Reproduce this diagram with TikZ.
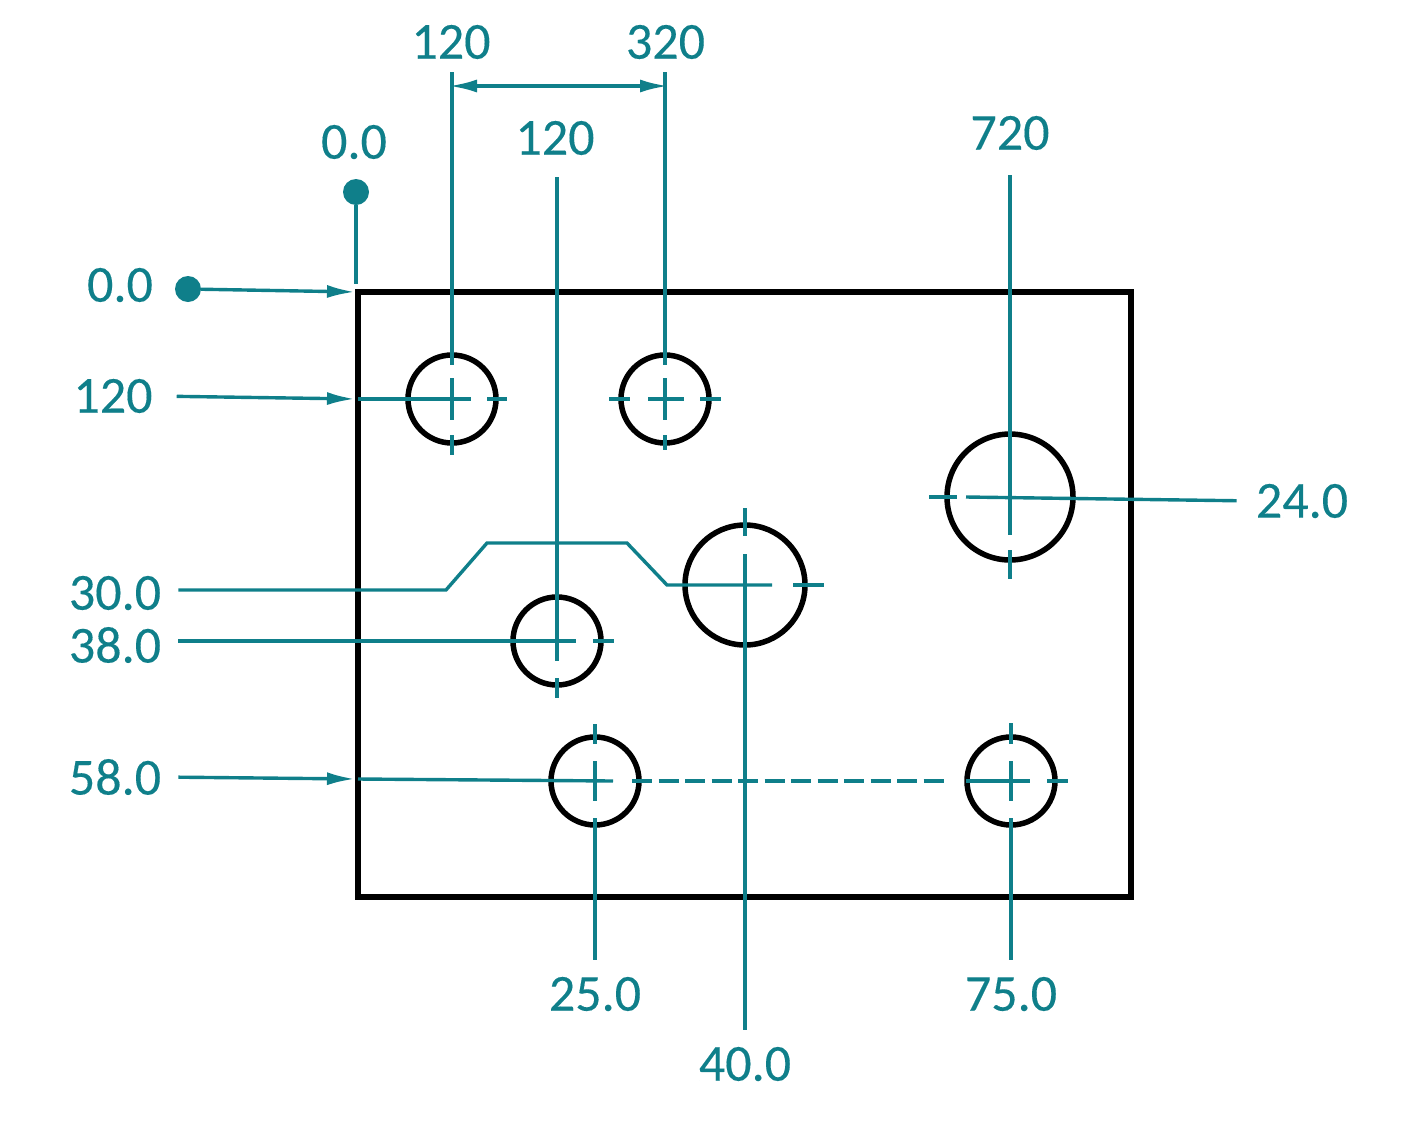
\documentclass[tikz,border=0pt]{standalone}
\usepackage{fontspec}
\setmainfont{Carlito}
\usetikzlibrary{positioning,calc,arrows.meta}
\definecolor{dimteal}{HTML}{0F7F8A}

\begin{document}
\begin{tikzpicture}
		[x=1pt,y=-1pt,
		plate/.style={rectangle,draw=black,line width=5.5pt,inner sep=0pt,outer sep=0pt,minimum width=773pt,minimum height=605pt},
		hole/.style={circle,draw=black,line width=5.5pt,inner sep=0pt,outer sep=0pt},
		dimlabel/.style={text=dimteal,inner sep=0pt,font=\fontsize{52pt}{52pt}\selectfont\addfontfeature{FakeBold=0.25}},
		dimdot/.style={circle,fill=dimteal,inner sep=0pt,minimum size=26pt},
		dimline/.style={draw=dimteal,line width=3.4pt},
		dimarrow/.style={dimline,-{Latex[length=28pt,width=13pt]}}]
		\useasboundingbox (0,0) rectangle (1402,1122);

		\node [plate] (plate) at (744.5,594.5) {};
		\node [hole,minimum size=88pt] (h1) at (452,399) {};
		\node [hole,minimum size=88pt] (h2) at (665,399) {};
		\node [hole,minimum size=126pt] (h3) at (1010,497) {};
		\node [hole,minimum size=120pt] (h4) at (745,585) {};
		\node [hole,minimum size=88pt] (h5) at (557,641) {};
		\node [hole,minimum size=88pt] (h6) at (595,781) {};
		\node [hole,minimum size=88pt] (h7) at (1011,781) {};

		\node [dimlabel] (t1) at (451,42) {120};
		\node [dimlabel] (t2) at (665.5,42) {320};
		\node [dimlabel] (t3) at (555,138) {120};
		\node [dimlabel] (t4) at (354,142) {0.0};
		\node [dimlabel] (t5) at (1010,133) {720};
		\node [dimlabel] (l1) at (120,285) {0.0};
		\node [dimlabel] (l2) at (113,396) {120};
		\node [dimlabel] (l3) at (115,593) {30.0};
		\node [dimlabel] (l4) at (115,645) {38.0};
		\node [dimlabel] (l5) at (115,777) {58.0};
		\node [dimlabel] (r1) at (1302,501) {24.0};
		\node [dimlabel] (b1) at (595,994) {25.0};
		\node [dimlabel] (b2) at (1011,994) {75.0};
		\node [dimlabel] (b3) at (745,1064) {40.0};

		\node [dimdot] (d1) at (188,289) {};
		\node [dimdot] (d2) at (356,192) {};

		\coordinate (e1) at (358,399);
		\coordinate (e2) at (358,779);
		\coordinate (a1) at (452,86);
		\coordinate (a2) at (665,86);

		% origin
		\draw [dimline] (d2) -- (356,284);
		\draw [dimarrow,shorten >=3pt] (d1) -- (plate.north west);

		% top leaders
		\draw [dimline,shorten <=13pt] (t1.south -| h1) -- ($(h1)+(0,-34)$);
		\draw [dimline,shorten <=13pt] (t2.south -| h2) -- ($(h2)+(0,-34)$);
		\draw [dimline,shorten <=22pt] (t3.south -| h5) -- ($(h5)+(0,20)$);
		\draw [dimline,shorten <=25pt] (t5.south -| h3) -- ($(h3)+(0,38)$);
		\draw [dimarrow,{Latex[length=28pt,width=13pt]}-{Latex[length=28pt,width=13pt]},shorten <=-3pt,shorten >=-3pt] (a1) -- (a2);

		% left leaders
		\draw [dimarrow,shorten <=24pt,shorten >=3pt] (l2.east) -- (e1);
		\draw [dimarrow,shorten <=17pt,shorten >=3pt] (l5.east) -- (e2);
		\draw [dimline,shorten <=17pt] (l3.east |- 0,590) -- (446,590) -- (487,543) -- (627,543) -- (667,585) -- ($(h4)+(27,0)$);
		\draw [dimline,shorten <=17pt] (l4.east |- 0,641) -- ($(h5)+(19,0)$);

		% right and bottom leaders
		\draw [dimline,shorten <=19pt] (r1.west) -- ($(h3)+(-44,0)$);
		\draw [dimline,shorten <=17pt] (b1.north) -- ($(h6)+(0,37)$);
		\draw [dimline,shorten <=17pt] (b2.north) -- ($(h7)+(0,37)$);
		\draw [dimline,shorten <=17pt] (b3.north) -- ($(h4)+(0,-31)$);

		% centre marks
		\draw [dimline] (e1) -- ($(h1)+(19,0)$);
		\draw [dimline] ($(h1)+(35,0)$) -- ($(h1)+(55,0)$);
		\draw [dimline] ($(h1)+(0,-21)$) -- ($(h1)+(0,21)$);
		\draw [dimline] ($(h1)+(0,36)$) -- ($(h1)+(0,56)$);

		\draw [dimline] ($(h2)+(-56,0)$) -- ($(h2)+(-35,0)$);
		\draw [dimline] ($(h2)+(-17,0)$) -- ($(h2)+(19,0)$);
		\draw [dimline] ($(h2)+(35,0)$) -- ($(h2)+(56,0)$);
		\draw [dimline] ($(h2)+(0,-21)$) -- ($(h2)+(0,21)$);
		\draw [dimline] ($(h2)+(0,36)$) -- ($(h2)+(0,51)$);

		\draw [dimline] ($(h3)+(-81,0)$) -- ($(h3)+(-53,0)$);
		\draw [dimline] ($(h3)+(0,53)$) -- ($(h3)+(0,82)$);

		\draw [dimline] ($(h4)+(48,0)$) -- ($(h4)+(79,0)$);
		\draw [dimline] ($(h4)+(0,-77)$) -- ($(h4)+(0,-49)$);

		\draw [dimline] ($(h5)+(36,0)$) -- ($(h5)+(57,0)$);
		\draw [dimline] ($(h5)+(0,37)$) -- ($(h5)+(0,57)$);

		\draw [dimline] (e2) -- ($(h6)+(18,0)$);
		\draw [dimline] ($(h6)+(0,-57)$) -- ($(h6)+(0,-37)$);
		\draw [dimline] ($(h6)+(0,-20)$) -- ($(h6)+(0,20)$);

		\draw [dimline,dash pattern=on 20pt off 6.5pt] ($(h6)+(37,0)$) -- ($(h7)+(-62,0)$);

		\draw [dimline] ($(h7)+(-45,0)$) -- ($(h7)+(19,0)$);
		\draw [dimline] ($(h7)+(36,0)$) -- ($(h7)+(57,0)$);
		\draw [dimline] ($(h7)+(0,-58)$) -- ($(h7)+(0,-37)$);
		\draw [dimline] ($(h7)+(0,-20)$) -- ($(h7)+(0,20)$);
	\end{tikzpicture}
\end{document}
